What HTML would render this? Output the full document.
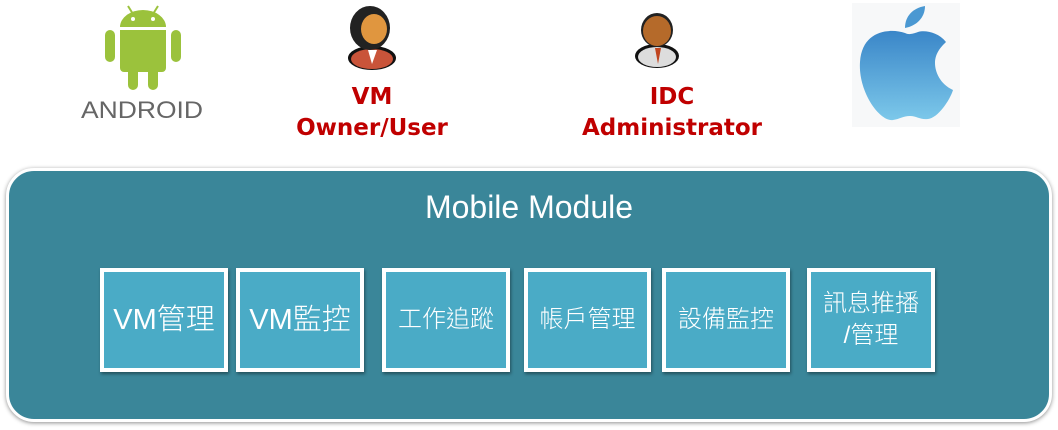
<!DOCTYPE html>
<html><head><meta charset="utf-8"><style>
body{margin:0;width:1058px;height:430px;background:#fff;position:relative;overflow:hidden;font-family:"Liberation Sans","Noto Sans CJK TC",sans-serif}
.lbl{position:absolute;color:#c00000;font-weight:bold;font-size:23px;text-align:center;line-height:31px;font-family:"DejaVu Sans","Liberation Sans",sans-serif}
.panel{position:absolute;left:6px;top:168px;width:1040px;height:248px;background:#3a8699;border:3px solid #fff;border-radius:28px;box-shadow:0 1px 4px rgba(0,0,0,.45)}
.box{position:absolute;top:268px;height:96px;background:#4aabc6;border:4px solid #fff;box-shadow:1px 2px 3px rgba(0,0,0,.4);color:#fff;font-size:24px;font-weight:300;display:flex;align-items:center;justify-content:center;text-align:center;line-height:32px}
</style></head><body>
<svg style="position:absolute;left:0;top:0" width="1058" height="140">
 <g fill="#9bc23c">
  <path d="M120 27 A23 17 0 0 1 166 27 Z"/>
  <line x1="128" y1="6" x2="133" y2="14" stroke="#9bc23c" stroke-width="2"/>
  <line x1="158" y1="6" x2="153" y2="14" stroke="#9bc23c" stroke-width="2"/>
  <path d="M120 30 H166 V68 a4 4 0 0 1 -4 4 H124 a4 4 0 0 1 -4 -4 Z"/>
  <rect x="105" y="30" width="10" height="32" rx="5"/>
  <rect x="171" y="30" width="10" height="32" rx="5"/>
  <rect x="128" y="66" width="10" height="24" rx="5"/>
  <rect x="148" y="66" width="10" height="24" rx="5"/>
 </g>
 <circle cx="133" cy="19" r="2" fill="#fff"/><circle cx="153" cy="19" r="2" fill="#fff"/>
 <text x="142" y="118" font-family="Liberation Sans" font-size="24" fill="#666" text-anchor="middle" textLength="122" lengthAdjust="spacingAndGlyphs">ANDROID</text>
 <ellipse cx="372" cy="58" rx="24" ry="12" fill="#111"/>
 <ellipse cx="372" cy="59" rx="21" ry="10" fill="#c9543a"/>
 <path d="M368 50 L372 64 L377 50 Z" fill="#fff"/>
 <ellipse cx="370" cy="28" rx="20" ry="22" fill="#222"/>
 <ellipse cx="374" cy="29" rx="13" ry="15" fill="#e0963f"/>
 <ellipse cx="657" cy="56" rx="22" ry="12" fill="#111"/>
 <ellipse cx="657" cy="57" rx="19" ry="10" fill="#ddd"/>
 <path d="M655 48 L658 64 L661 48 Z" fill="#c0451f"/>
 <ellipse cx="657" cy="30" rx="16" ry="17" fill="#222"/>
 <ellipse cx="657" cy="31" rx="14" ry="15" fill="#b56a2a"/>
 <rect x="852" y="3" width="108" height="124" fill="#f7f8f9"/>
 <defs><linearGradient id="ap" x1="0" y1="0" x2="0" y2="1"><stop offset="0" stop-color="#3a86c8"/><stop offset="1" stop-color="#7cc8ea"/></linearGradient></defs>
 <path d="M905 33 C890 28 862 30 860 62 C858 92 880 122 893 120 C900 119 903 116 910 116 C917 116 920 120 928 119 C938 118 950 100 953 90 C940 84 935 72 935 63 C935 52 943 45 946 42 C938 32 925 30 918 32 C912 34 909 35 905 33 Z" fill="url(#ap)"/>
 <path d="M905 28 C905 16 913 8 925 6 C925 18 916 26 905 28 Z" fill="#4a98d2"/>
</svg>
<div class="lbl" style="left:272px;top:82px;width:200px">VM<br>Owner/User</div>
<div class="lbl" style="left:572px;top:82px;width:200px">IDC<br>Administrator</div>
<div class="panel"></div>
<div style="position:absolute;left:0;width:1058px;top:189px;text-align:center;color:#fff;font-size:32px">Mobile Module</div>
<div class="box" style="left:100px;width:120px;font-size:29px">VM管理</div>
<div class="box" style="left:236px;width:120px;font-size:29px">VM監控</div>
<div class="box" style="left:382px;width:120px">工作追蹤</div>
<div class="box" style="left:524px;width:119px">帳戶管理</div>
<div class="box" style="left:662px;width:120px">設備監控</div>
<div class="box" style="left:807px;width:120px">訊息推播<br>/管理</div>
</body></html>
